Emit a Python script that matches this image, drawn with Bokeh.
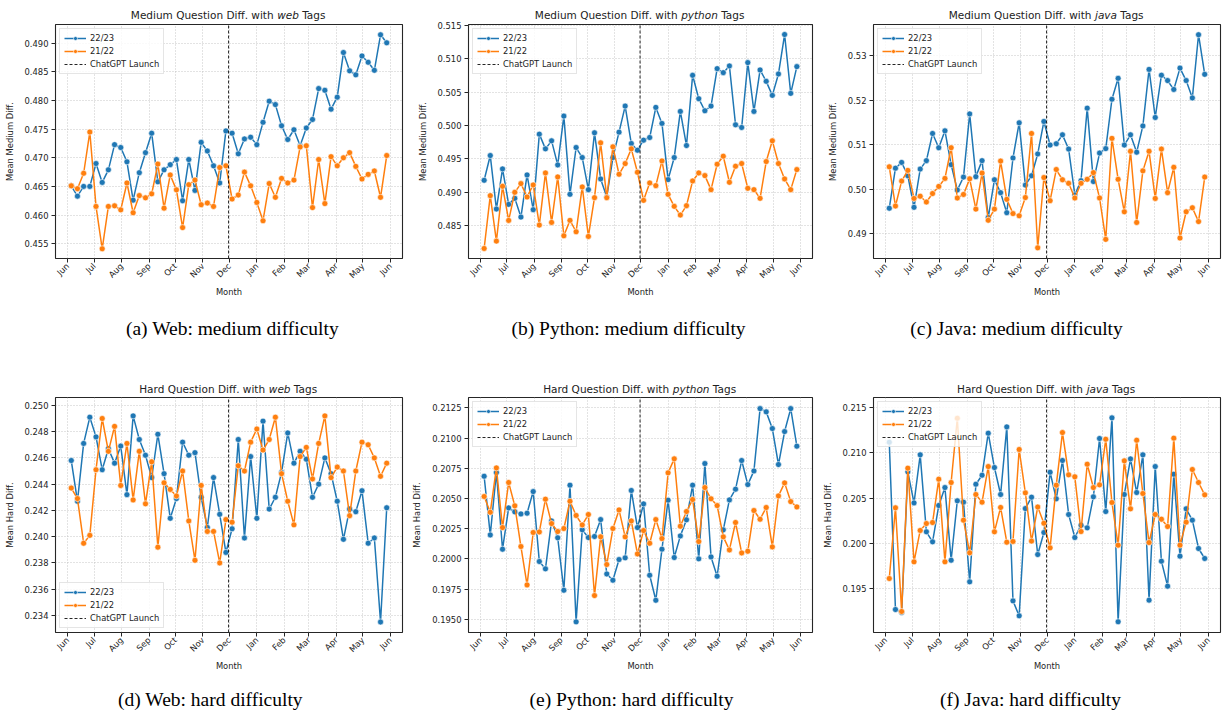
import math
from datetime import datetime, timedelta
from bokeh.plotting import figure
from bokeh.layouts import column, row
from bokeh.models import (FixedTicker, PrintfTickFormatter, DatetimeTickFormatter,
                          Label, Range1d)
from bokeh.embed import file_html
from bokeh.resources import INLINE

# ---------------- data ----------------
WEEKS = [datetime(2022, 6, 5) + timedelta(days=7 * i) for i in range(52)]
LAUNCH = datetime(2022, 11, 30)
MONTH_TICKS = [datetime(2022, m, 1) for m in range(6, 13)] + [datetime(2023, m, 1) for m in range(1, 7)]

web_med_2223 = [0.4651, 0.4633, 0.4650, 0.4650, 0.4690, 0.4657, 0.4679, 0.4723, 0.4718, 0.4693,
                0.4626, 0.4674, 0.4709, 0.4743, 0.4658, 0.4679, 0.4688, 0.4697, 0.4625, 0.4697,
                0.4643, 0.4727, 0.4712, 0.4686, 0.4656, 0.4747, 0.4743, 0.4707, 0.4733, 0.4736,
                0.4723, 0.4762, 0.4799, 0.4793, 0.4756, 0.4732, 0.4749, 0.4721, 0.4752, 0.4767,
                0.4821, 0.4818, 0.4785, 0.4806, 0.4884, 0.4852, 0.4845, 0.4878, 0.4867, 0.4853,
                0.4915, 0.4901]
web_med_2122 = [0.4651, 0.4646, 0.4673, 0.4745, 0.4615, 0.4541, 0.4615, 0.4616, 0.4609, 0.4656,
                0.4604, 0.4634, 0.4630, 0.4637, 0.4689, 0.4612, 0.4670, 0.4644, 0.4578, 0.4653,
                0.4661, 0.4618, 0.4621, 0.4615, 0.4683, 0.4686, 0.4628, 0.4635, 0.4675, 0.4651,
                0.4622, 0.4590, 0.4655, 0.4631, 0.4664, 0.4656, 0.4661, 0.4719, 0.4721, 0.4613,
                0.4697, 0.4620, 0.4702, 0.4686, 0.4700, 0.4709, 0.4685, 0.4663, 0.4671, 0.4677,
                0.4631, 0.4704]
py_med_2223 = [0.4918, 0.4955, 0.4875, 0.4935, 0.4882, 0.4891, 0.4863, 0.4926, 0.4874, 0.4987,
               0.4965, 0.4977, 0.4941, 0.5014, 0.4897, 0.4967, 0.4952, 0.4904, 0.4989, 0.4920,
               0.4893, 0.4952, 0.4990, 0.5029, 0.4973, 0.4963, 0.4978, 0.4982, 0.5027, 0.5003,
               0.4919, 0.4952, 0.5021, 0.4970, 0.5075, 0.5040, 0.5022, 0.5029, 0.5085, 0.5079,
               0.5089, 0.5001, 0.4997, 0.5094, 0.5021, 0.5083, 0.5066, 0.5045, 0.5077, 0.5136,
               0.5048, 0.5088]
py_med_2122 = [0.4816, 0.4895, 0.4827, 0.4909, 0.4858, 0.4900, 0.4913, 0.4893, 0.4911, 0.4851,
               0.4929, 0.4855, 0.4923, 0.4835, 0.4858, 0.4841, 0.4908, 0.4834, 0.4892, 0.4974,
               0.4892, 0.4968, 0.4927, 0.4943, 0.4965, 0.4930, 0.4888, 0.4914, 0.4910, 0.4947,
               0.4897, 0.4879, 0.4866, 0.4880, 0.4917, 0.4929, 0.4925, 0.4904, 0.4942, 0.4954,
               0.4915, 0.4939, 0.4943, 0.4906, 0.4904, 0.4891, 0.4946, 0.4977, 0.4943, 0.4920,
               0.4904, 0.4934]
java_med_2223 = [0.4957, 0.5047, 0.5060, 0.5030, 0.4959, 0.5045, 0.5064, 0.5125, 0.5093, 0.5131,
                 0.5055, 0.4998, 0.5027, 0.5169, 0.5028, 0.5064, 0.4936, 0.5021, 0.4992, 0.4947,
                 0.5070, 0.5149, 0.5009, 0.5030, 0.5079, 0.5152, 0.5099, 0.5102, 0.5122, 0.5090,
                 0.4987, 0.5019, 0.5182, 0.5017, 0.5081, 0.5091, 0.5202, 0.5249, 0.5099, 0.5122,
                 0.5083, 0.5142, 0.5269, 0.5161, 0.5256, 0.5244, 0.5224, 0.5272, 0.5244, 0.5205,
                 0.5347, 0.5258]
java_med_2122 = [0.5050, 0.4962, 0.5018, 0.5042, 0.4979, 0.4984, 0.4971, 0.4990, 0.5006, 0.5024,
                 0.5093, 0.4980, 0.4988, 0.5023, 0.4955, 0.5036, 0.4930, 0.4955, 0.5063, 0.4977,
                 0.4945, 0.4940, 0.4981, 0.5125, 0.4868, 0.5026, 0.4974, 0.5044, 0.5021, 0.5013,
                 0.4980, 0.5013, 0.5022, 0.5037, 0.4980, 0.4887, 0.5114, 0.5022, 0.4949, 0.5085,
                 0.4925, 0.5041, 0.5085, 0.4979, 0.5090, 0.4992, 0.5049, 0.4890, 0.4949, 0.4958,
                 0.4927, 0.5027]
web_hard_2223 = [0.2458, 0.2427, 0.2471, 0.2491, 0.2476, 0.2451, 0.2467, 0.2456, 0.2469, 0.2432,
                 0.2492, 0.2474, 0.2462, 0.2445, 0.2478, 0.2448, 0.2414, 0.2429, 0.2472, 0.2462,
                 0.2464, 0.2430, 0.2407, 0.2445, 0.2417, 0.2388, 0.2406, 0.2474, 0.2399, 0.2461,
                 0.2414, 0.2488, 0.2421, 0.2430, 0.2449, 0.2479, 0.2456, 0.2465, 0.2459, 0.2430,
                 0.2440, 0.2460, 0.2448, 0.2427, 0.2398, 0.2421, 0.2419, 0.2435, 0.2395, 0.2399,
                 0.2335, 0.2422]
web_hard_2122 = [0.2437, 0.2429, 0.2395, 0.2401, 0.2451, 0.2490, 0.2465, 0.2484, 0.2439, 0.2471,
                 0.2428, 0.2465, 0.2425, 0.2457, 0.2392, 0.2441, 0.2436, 0.2431, 0.2450, 0.2412,
                 0.2382, 0.2439, 0.2404, 0.2404, 0.2380, 0.2413, 0.2411, 0.2454, 0.2450, 0.2472,
                 0.2482, 0.2466, 0.2474, 0.2491, 0.2448, 0.2427, 0.2409, 0.2461, 0.2468, 0.2444,
                 0.2471, 0.2492, 0.2445, 0.2453, 0.2450, 0.2416, 0.2450, 0.2472, 0.2470, 0.2460,
                 0.2446, 0.2456]
py_hard_2223 = [0.20684, 0.20198, 0.20715, 0.20080, 0.20422, 0.20389, 0.20372, 0.20378, 0.20557, 0.19978,
                0.19917, 0.20314, 0.20174, 0.19740, 0.20610, 0.19478, 0.20240, 0.20176, 0.20185, 0.20325,
                0.19875, 0.19823, 0.19994, 0.20008, 0.20566, 0.20259, 0.20455, 0.19864, 0.19657, 0.20080,
                0.20486, 0.20011, 0.20190, 0.20323, 0.20610, 0.20000, 0.20789, 0.20016, 0.19856, 0.20240,
                0.20488, 0.20577, 0.20814, 0.20615, 0.20728, 0.21244, 0.21217, 0.21079, 0.20781, 0.21054,
                0.21244, 0.20933]
py_hard_2122 = [0.20516, 0.20386, 0.20753, 0.20259, 0.20632, 0.20439, 0.20102, 0.19784, 0.20218, 0.20223,
                0.20494, 0.20292, 0.20226, 0.20251, 0.20477, 0.20359, 0.20281, 0.20367, 0.19696, 0.20182,
                0.19953, 0.20251, 0.20405, 0.20182, 0.20314, 0.20041, 0.20234, 0.20129, 0.20325, 0.20168,
                0.20712, 0.20828, 0.20270, 0.20392, 0.20491, 0.20143, 0.20590, 0.20497, 0.20441, 0.20182,
                0.20074, 0.20301, 0.20049, 0.20063, 0.20400, 0.20328, 0.20425, 0.20099, 0.20521, 0.20629,
                0.20474, 0.20430]
java_hard_2223 = [0.21119, 0.19263, 0.19230, 0.20790, 0.20446, 0.20979, 0.20125, 0.20014, 0.20417, 0.20616,
                  0.19810, 0.20469, 0.20454, 0.19570, 0.20653, 0.20753, 0.21219, 0.20838, 0.20539, 0.21289,
                  0.19359, 0.19193, 0.20383, 0.20509, 0.19873, 0.20117, 0.20786, 0.20491, 0.20916, 0.20317,
                  0.20062, 0.20199, 0.20169, 0.20513, 0.21160, 0.20350, 0.21389, 0.19127, 0.20539, 0.20934,
                  0.20561, 0.20979, 0.19367, 0.20849, 0.19799, 0.19522, 0.20764, 0.19855, 0.20380, 0.20254,
                  0.19940, 0.19829]
java_hard_2122 = [0.19607, 0.20391, 0.19241, 0.20831, 0.19792, 0.20140, 0.20217, 0.20228, 0.20709, 0.19792,
                  0.20672, 0.21385, 0.20254, 0.19892, 0.20539, 0.20454, 0.20849, 0.20125, 0.20395, 0.20010,
                  0.20018, 0.21038, 0.20557, 0.20022, 0.20400, 0.20220, 0.19947, 0.20642, 0.21226, 0.20757,
                  0.20735, 0.20128, 0.20875, 0.20616, 0.20646, 0.21152, 0.20450, 0.19977, 0.20912, 0.20380,
                  0.21141, 0.20550, 0.20006, 0.20317, 0.20265, 0.20184, 0.21164, 0.19977, 0.20232, 0.20816,
                  0.20672, 0.20535]

med_ticks_web = [0.455, 0.460, 0.465, 0.470, 0.475, 0.480, 0.485, 0.490]
med_ticks_py = [0.485, 0.490, 0.495, 0.500, 0.505, 0.510, 0.515]
med_ticks_java = [0.49, 0.50, 0.51, 0.52, 0.53]
hard_ticks_web = [0.234, 0.236, 0.238, 0.240, 0.242, 0.244, 0.246, 0.248, 0.250]
hard_ticks_py = [0.1950, 0.1975, 0.2000, 0.2025, 0.2050, 0.2075, 0.2100, 0.2125]
hard_ticks_java = [0.195, 0.200, 0.205, 0.210, 0.215]

# ---------------- styling helpers ----------------
BLUE = "#1f77b4"
ORANGE = "#ff7f0e"
TXT = "#222222"
FONT = "DejaVu Sans"
TICK_FS = "8.4px"
TITLE_FS = 10.5
CAP_FONT = "Liberation Serif"
CAP_FS = "19.5px"
EPOCH = datetime(1970, 1, 1)


def ms(d):
    return (d - EPOCH).total_seconds() * 1000.0


# DejaVu Sans advance widths (units per em = 2048)
DJV = {' ': 651, '.': 651, 'D': 1577, 'M': 1767, 'Q': 1612, 'T': 1251, 'H': 1540,
       'a': 1255, 'b': 1300, 'd': 1300, 'e': 1260, 'f': 721, 'g': 1300, 'h': 1298,
       'i': 569, 'j': 569, 'm': 1995, 'n': 1298, 'o': 1253, 'p': 1300, 'r': 842,
       's': 1067, 't': 803, 'u': 1298, 'v': 1212, 'w': 1675, 'y': 1212}


def text_w(s, size):
    return sum(DJV.get(c, 1250) for c in s) / 2048.0 * size


weeks_ms = [ms(d) for d in WEEKS]
span_ms = weeks_ms[-1] - weeks_ms[0]
X0 = weeks_ms[0] - 0.05 * span_ms
X1 = weeks_ms[-1] + 0.05 * span_ms


def make_panel(ylabel, y23, y22, yr, yticks, yfmt, bl, fw, br, top, fh, bottom, legend_loc):
    W = bl + fw + br
    H = top + fh + bottom
    p = figure(width=W, height=H, x_axis_type="datetime", output_backend="svg",
               toolbar_location=None, x_range=Range1d(X0, X1), y_range=Range1d(*yr))
    p.min_border_left = bl
    p.min_border_right = br
    p.min_border_top = top
    p.min_border_bottom = bottom
    p.background_fill_color = "white"
    p.border_fill_color = "white"
    p.outline_line_color = "#262626"
    p.outline_line_width = 1.1

    p.xaxis.ticker = FixedTicker(ticks=[ms(d) for d in MONTH_TICKS])
    p.xaxis.formatter = DatetimeTickFormatter(days="%b", months="%b", years="%b",
                                              hours="%b", minutes="%b", seconds="%b")
    p.xaxis.major_label_orientation = math.pi / 4
    p.yaxis.ticker = FixedTicker(ticks=yticks)
    p.yaxis.formatter = PrintfTickFormatter(format=yfmt)
    for ax in (p.xaxis[0], p.yaxis[0]):
        ax.axis_line_color = None
        ax.major_tick_line_color = "#262626"
        ax.major_tick_out = 4
        ax.major_tick_in = 0
        ax.minor_tick_line_color = None
        ax.major_label_text_font = FONT
        ax.major_label_text_font_size = TICK_FS
        ax.major_label_text_color = TXT
        ax.axis_label_text_font = FONT
        ax.axis_label_text_font_size = TICK_FS
        ax.axis_label_text_font_style = "normal"
        ax.axis_label_text_color = TXT
    p.xaxis.axis_label = "Month"
    p.xaxis.major_label_standoff = 2
    p.xaxis.axis_label_standoff = 0
    p.yaxis.axis_label = ylabel
    p.yaxis.major_label_standoff = 3
    p.yaxis.axis_label_standoff = 7

    for g in (p.xgrid[0], p.ygrid[0]):
        g.grid_line_color = "#b8b8b8"
        g.grid_line_dash = "1 2"
        g.grid_line_width = 0.8

    p.line(weeks_ms, y23, line_color=BLUE, line_width=1.5, legend_label="22/23")
    p.scatter(weeks_ms, y23, size=6, marker="circle", fill_color=BLUE,
              line_color="white", line_width=0.6, legend_label="22/23")
    p.line(weeks_ms, y22, line_color=ORANGE, line_width=1.5, legend_label="21/22")
    p.scatter(weeks_ms, y22, size=6, marker="circle", fill_color=ORANGE,
              line_color="white", line_width=0.6, legend_label="21/22")
    # ChatGPT launch: vertical line across the whole y range
    p.line([ms(LAUNCH), ms(LAUNCH)], [yr[0], yr[1]], line_color="black", line_alpha=0.85,
           line_dash="3 2", line_width=1, legend_label="ChatGPT Launch")

    lg = p.legend[0]
    lg.location = legend_loc
    lg.margin = 4
    lg.padding = 4
    lg.spacing = 3
    lg.glyph_width = 22
    lg.glyph_height = 10
    lg.label_height = 10
    lg.label_standoff = 4
    lg.label_text_font = FONT
    lg.label_text_font_size = TICK_FS
    lg.label_text_color = TXT
    lg.border_line_color = "#cccccc"
    lg.border_line_width = 1
    lg.background_fill_alpha = 0.8
    return p


def title_labels(kind, tag, cx, y):
    pre = f"{kind} Question Diff. with"
    suf = "Tags"
    sp = text_w(" ", TITLE_FS)
    w1 = text_w(pre, TITLE_FS)
    w2 = text_w(tag, TITLE_FS)
    w3 = text_w(suf, TITLE_FS)
    total = w1 + sp + w2 + sp + w3
    xs = cx - total / 2.0
    out = []
    for txt, xx, style in ((pre, xs, "normal"), (tag, xs + w1 + sp, "italic"),
                           (suf, xs + w1 + sp + w2 + sp, "normal")):
        out.append(Label(x=xx, y=y, x_units="screen", y_units="screen", text=txt,
                         text_font=FONT, text_font_size=f"{TITLE_FS}px",
                         text_font_style=style, text_color=TXT,
                         text_align="left", text_baseline="middle"))
    return out


def caption_label(text, cx, y):
    return Label(x=cx, y=y, x_units="screen", y_units="screen", text=text,
                 text_font=CAP_FONT, text_font_size=CAP_FS, text_color="black",
                 text_align="center", text_baseline="middle")


def strip(bl, fw, br, height, labels):
    width = bl + fw + br
    s = figure(width=width, height=height, x_range=Range1d(0, fw), y_range=Range1d(0, height),
               output_backend="svg", toolbar_location=None,
               x_axis_location=None, y_axis_location=None)
    s.min_border_left = bl
    s.min_border_right = br
    s.min_border_top = 0
    s.min_border_bottom = 0
    s.outline_line_color = None
    s.grid.visible = False
    s.background_fill_color = "white"
    s.border_fill_color = "white"
    for lab in labels:
        s.add_layout(lab)
    return s


# vertical layout (page pixels)
S1, S2, S3 = 21, 92, 35
TOPF = dict(top=3, fh=234, bottom=45)
BOTF = dict(top=2, fh=235, bottom=45)

COLS = [
    dict(left=0, bl=55, fw=347, br=4,
         top=dict(kind="Medium", tag="web", ylabel="Mean Medium Diff.", y23=web_med_2223, y22=web_med_2122,
                  yr=(0.4524, 0.4933), yticks=med_ticks_web, yfmt="%.3f",
                  legend_loc="top_left", caption="(a) Web: medium difficulty", cap_cx=232),
         bot=dict(kind="Hard", tag="web", ylabel="Mean Hard Diff.", y23=web_hard_2223, y22=web_hard_2122,
                  yr=(0.2327, 0.2506), yticks=hard_ticks_web, yfmt="%.3f",
                  legend_loc="bottom_left", caption="(d) Web: hard difficulty", cap_cx=210)),
    dict(left=406, bl=62, fw=344, br=2,
         top=dict(kind="Medium", tag="python", ylabel="Mean Medium Diff.", y23=py_med_2223, y22=py_med_2122,
                  yr=(0.4801, 0.5151), yticks=med_ticks_py, yfmt="%.3f",
                  legend_loc="top_left", caption="(b) Python: medium difficulty", cap_cx=628),
         bot=dict(kind="Hard", tag="python", ylabel="Mean Hard Diff.", y23=py_hard_2223, y22=py_hard_2122,
                  yr=(0.19390, 0.21336), yticks=hard_ticks_py, yfmt="%.4f",
                  legend_loc="top_left", caption="(e) Python: hard difficulty", cap_cx=631)),
    dict(left=814, bl=59, fw=347, br=2,
         top=dict(kind="Medium", tag="java", ylabel="Mean Medium Diff.", y23=java_med_2223, y22=java_med_2122,
                  yr=(0.4844, 0.5370), yticks=med_ticks_java, yfmt="%.2f",
                  legend_loc="top_left", caption="(c) Java: medium difficulty", cap_cx=1016),
         bot=dict(kind="Hard", tag="java", ylabel="Mean Hard Diff.", y23=java_hard_2223, y22=java_hard_2122,
                  yr=(0.19008, 0.21615), yticks=hard_ticks_java, yfmt="%.3f",
                  legend_loc="top_left", caption="(f) Java: hard difficulty", cap_cx=1030)),
]

cols = []
for c in COLS:
    t, b = c["top"], c["bot"]
    bl, fw, br = c["bl"], c["fw"], c["br"]
    fl = c["left"] + bl  # page x of frame left
    ft = make_panel(t["ylabel"], t["y23"], t["y22"], t["yr"], t["yticks"], t["yfmt"],
                    bl, fw, br, legend_loc=t["legend_loc"], **TOPF)
    fb = make_panel(b["ylabel"], b["y23"], b["y22"], b["yr"], b["yticks"], b["yfmt"],
                    bl, fw, br, legend_loc=b["legend_loc"], **BOTF)
    s1 = strip(bl, fw, br, S1, title_labels(t["kind"], t["tag"], fw / 2.0, 7))
    s2 = strip(bl, fw, br, S2, [caption_label(t["caption"], t["cap_cx"] - fl, 67)] +
               title_labels(b["kind"], b["tag"], fw / 2.0, 7))
    s3 = strip(bl, fw, br, S3, [caption_label(b["caption"], b["cap_cx"] - fl, 13)])
    cols.append(column(s1, ft, s2, fb, s3, spacing=0))

p = row(*cols, spacing=0)
open("out.html", "w").write(file_html(p, INLINE))
